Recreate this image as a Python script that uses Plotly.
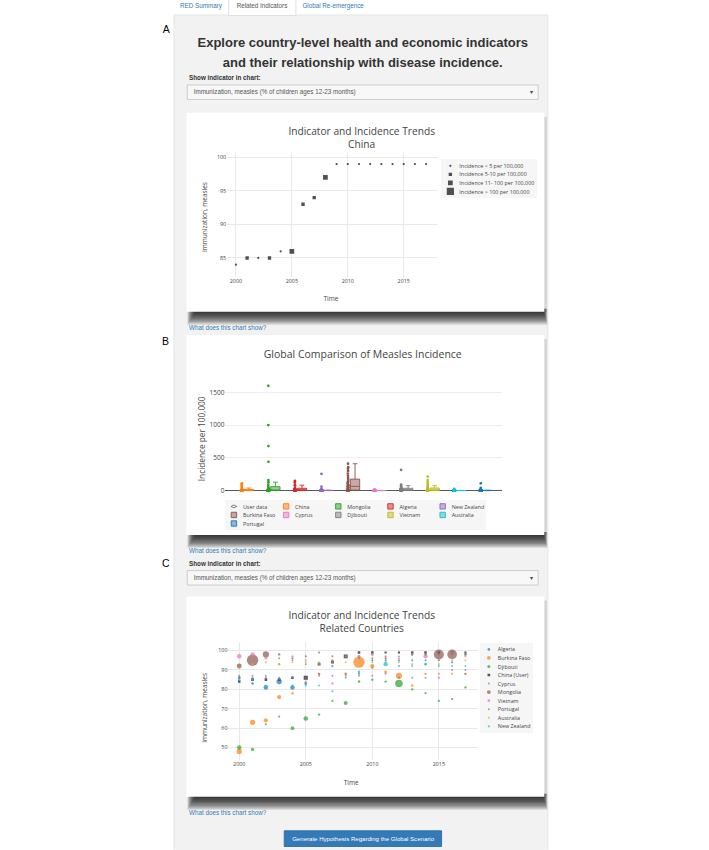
import plotly.graph_objects as go

# ---------------------------------------------------------------- data
YEARS = list(range(2000, 2018))

# Chart A : China
CHINA_IMMUNIZATION = [84, 85, 85, 85, 86, 86, 93, 94, 97, 99, 99, 99, 99, 99, 99, 99, 99, 99]
CHINA_INCIDENCE = [4, 7, 4.5, 6, 4, 60, 8, 9, 45, 3.9, 2.9, 0.7, 0.5, 2, 3.9, 3, 1.8, 0.4]
INCIDENCE_CLASSES = ["Incidence < 5 per 100,000", "Incidence 5-10 per 100,000",
                     "Incidence 11- 100 per 100,000", "Incidence > 100 per 100,000"]

# Chart B : incidence per 100,000 (all reported years)
BOX_COUNTRIES = ["China", "Mongolia", "Algeria", "New Zealand", "Burkina Faso",
                 "Cyprus", "Djibouti", "Vietnam", "Australia", "Portugal"]
B_CHINA = [110, 95, 72, 55, 40, 25, 18, 12, 9, 8, 7, 8, 10, 9, 6, 4, 3, 1.5, 0.7, 0.5, 2, 4, 3, 2, 0.5, 0.3]
B_MONGOLIA = [1600, 1000, 680, 440, 160, 128, 90, 60, 36, 30, 25, 20, 15, 12, 10, 8, 5, 4, 3, 2, 1,
              0.5, 0.3, 0.1, 2, 1, 0.5, 0.2, 0.1, 0.3]
B_ALGERIA = [150, 135, 120, 82, 78, 40, 35, 30, 25, 20, 15, 12, 10, 8, 6, 5, 4, 3, 2, 1, 0.5, 0.3, 12, 6, 2, 1]
B_NEW_ZEALAND = [254, 60, 25, 10, 5, 3, 2, 1, 0.5, 0.3, 0.2, 1, 13, 4, 2, 0.5, 0.3, 0.2, 1, 0.5, 3, 1, 0.4, 0.2, 0.1, 0.3]
B_BURKINA_FASO = [410, 357, 330, 300, 260, 225, 190, 160, 140, 125, 110, 95, 80, 68, 60, 50, 38, 28, 20, 14,
                  9, 6, 4, 3, 2, 1, 0.5, 0.2]
B_CYPRUS = [20, 12, 8, 5, 3, 2, 1, 0.5, 0.3, 0.2, 0.1, 0, 0, 0.5, 1, 0.2, 0.1, 0, 0.3, 0.5, 0.2, 0.1, 0, 0, 0.1, 0.2]
B_DJIBOUTI = [315, 92, 75, 60, 48, 40, 35, 30, 25, 22, 18, 15, 12, 10, 8, 6, 5, 4, 3, 2, 1, 0.5, 0.2, 10, 20, 3]
B_VIETNAM = [213, 160, 130, 100, 75, 55, 40, 30, 25, 20, 15, 12, 10, 8, 6, 5, 4, 3, 2, 1, 0.5, 0.3, 0.2, 18, 9, 2]
B_AUSTRALIA = [25, 15, 8, 5, 3, 2, 1, 0.5, 0.4, 0.3, 0.2, 0.1, 0.5, 0.3, 0.2, 0.1, 0.1, 0.4, 1.2, 0.3, 0.4, 0.2,
               0.3, 0.3, 0.5, 0.4]
B_PORTUGAL = [111, 40, 25, 15, 8, 5, 3, 2, 1, 0.5, 0.2, 0.1, 0, 0, 0.1, 0, 0, 0.2, 0.3, 0.1, 0, 0, 0.1, 0.2, 0.1, 0.3]
BOX_VALUES = [B_CHINA, B_MONGOLIA, B_ALGERIA, B_NEW_ZEALAND, B_BURKINA_FASO,
              B_CYPRUS, B_DJIBOUTI, B_VIETNAM, B_AUSTRALIA, B_PORTUGAL]

# Chart C : immunization (%) and incidence per 100,000, 2000-2017
ALGERIA_IMM = [86, 83, 81, 84, 81, 83, 88, 92, 88, 88, 95, 95, 95, 95, 95, 95, 94, 88]
ALGERIA_INC = [10, 5, 90, 150, 80, 10, 2, 1, 0.5, 0.3, 0.2, 0.3, 0.2, 0.1, 0.1, 0.2, 0.3, 0.5]
BURKINA_IMM = [48, 63, 64, 76, 78, 84, 88, 94, 88, 94, 92, 89, 87, 82, 88, 88, 88, 88]
BURKINA_INC = [150, 150, 60, 60, 3, 1, 2, 1, 5, 1500, 70, 8, 250, 3, 2, 1, 1, 2]
DJIBOUTI_IMM = [50, 49, 62, 66, 60, 65, 67, 74, 73, 84, 85, 84, 83, 80, 78, 74, 75, 81]
DJIBOUTI_INC = [80, 20, 1, 1, 40, 90, 2, 1, 50, 5, 3, 2, 500, 2, 1, 1, 1, 2]
CYPRUS_IMM = [86, 86, 86, 86, 86, 86, 87, 87, 87, 87, 87, 88, 86, 86, 86, 86, 90, 90]
CYPRUS_INC = [0.4, 0.2, 0.1, 0.3, 0.2, 0.1, 0.1, 0.2, 0.3, 0.1, 0.2, 0.1, 0.3, 0.2, 0.1, 0.2, 0.3, 0.1]
MONGOLIA_IMM = [92, 95, 98, 98, 96, 97, 99, 97, 97, 97, 98, 97, 99, 98, 98, 98, 98, 98]
MONGOLIA_INC = [120, 1600, 250, 2, 1, 0.5, 0.3, 0.2, 0.5, 0.4, 0.2, 0.1, 0.1, 0.1, 0.5, 1100, 1000, 2]
VIETNAM_IMM = [97, 98, 96, 93, 97, 95, 93, 83, 97, 97, 98, 96, 96, 98, 97, 95, 99, 97]
VIETNAM_INC = [90, 60, 5, 3, 2, 1, 1, 2, 3, 15, 3, 1, 1, 2, 70, 0.5, 0.3, 1]
PORTUGAL_IMM = [87, 87, 87, 96, 95, 93, 93, 95, 97, 96, 96, 96, 97, 98, 98, 98, 98, 98]
PORTUGAL_INC = [0.3, 0.2, 0.2, 0.1, 0.1, 0.1, 0.1, 0.1, 0.1, 0.1, 0.1, 0.1, 0.1, 0.1, 0.1, 0.1, 0.1, 1.1]
AUSTRALIA_IMM = [91, 93, 94, 93, 94, 94, 94, 94, 94, 94, 94, 94, 94, 93, 93, 93, 95, 95]
AUSTRALIA_INC = [0.5, 0.6, 0.2, 0.4, 0.2, 0.1, 0.6, 0.1, 0.3, 0.5, 0.3, 0.8, 0.9, 0.7, 1.5, 0.3, 0.4, 0.3]
NZ_IMM = [85, 85, 82, 85, 82, 82, 82, 79, 86, 89, 91, 93, 92, 92, 93, 92, 92, 92]
NZ_INC = [2, 0.5, 0.3, 0.3, 0.2, 0.2, 0.3, 0.5, 0.4, 5, 1, 70, 1, 0.2, 6, 0.2, 0.5, 0.2]

RELATED = [("Algeria", ALGERIA_IMM, ALGERIA_INC), ("Burkina Faso", BURKINA_IMM, BURKINA_INC),
           ("Djibouti", DJIBOUTI_IMM, DJIBOUTI_INC), ("China (User)", CHINA_IMMUNIZATION, CHINA_INCIDENCE),
           ("Cyprus", CYPRUS_IMM, CYPRUS_INC), ("Mongolia", MONGOLIA_IMM, MONGOLIA_INC),
           ("Vietnam", VIETNAM_IMM, VIETNAM_INC), ("Portugal", PORTUGAL_IMM, PORTUGAL_INC),
           ("Australia", AUSTRALIA_IMM, AUSTRALIA_INC), ("New Zealand", NZ_IMM, NZ_INC)]

# ---------------------------------------------------------------- styles
BOX_COLORS = {"China": "#ff7f0e", "Mongolia": "#2ca02c", "Algeria": "#d62728", "New Zealand": "#9467bd",
              "Burkina Faso": "#8c564b", "Cyprus": "#e377c2", "Djibouti": "#7f7f7f", "Vietnam": "#bcbd22",
              "Australia": "#17becf", "Portugal": "#1f77b4"}
REL_COLORS = {"Algeria": "#1f77b4", "Burkina Faso": "#ff7f0e", "Djibouti": "#2ca02c", "China (User)": "#111111",
              "Cyprus": "#9467bd", "Mongolia": "#8c564b", "Vietnam": "#e377c2", "Portugal": "#7f7f7f",
              "Australia": "#bcbd22", "New Zealand": "#17becf"}
CLASS_SIZES = [5, 7.5, 10.5, 16]
CLASS_SYMBOLS = ["circle", "square", "square", "square"]

SCALE = 0.45                      # the reference is a scaled-down page
REF_W, REF_H = 709, 850
FIG_W, FIG_H = round(REF_W / SCALE), round(REF_H / SCALE)
# plot-area (paper) box, in reference pixels: x 225 .. 502, full height
ML = round(225 / SCALE)
PW = round(277 / SCALE)
MR = FIG_W - ML - PW
UI_FONT = "Liberation Sans, Arial, sans-serif"
PLOT_FONT = "Open Sans, verdana, arial, sans-serif"


def px_x(v):
    return (v / SCALE - ML) / PW


def px_y(v):
    return 1 - v / REF_H


def sz(v):
    return v / SCALE


def dom(a, b):
    return [max(0.0, px_x(a)), min(1.0, px_x(b))]


def incidence_class(v):
    if v < 5:
        return 0
    if v <= 10:
        return 1
    if v <= 100:
        return 2
    return 3


def incidence_size(v):
    return min(26, 4 + 0.9 * v ** 0.43)


shapes = []
annotations = []


def rect(x0, y0, x1, y1, fill, line=None, lw=1.0):
    shapes.append(dict(type="rect", xref="paper", yref="paper", layer="below",
                       x0=px_x(x0), x1=px_x(x1), y0=px_y(y1), y1=px_y(y0),
                       fillcolor=fill, line=dict(color=line or fill, width=lw if line else 0)))


def label(x, y, text, size, color="#333", xanchor="center", family=UI_FONT, angle=0):
    annotations.append(dict(x=px_x(x), y=px_y(y), xref="paper", yref="paper", text=text,
                            showarrow=False, xanchor=xanchor, yanchor="middle", textangle=angle,
                            font=dict(size=sz(size), color=color, family=family)))


def chart_card(x0, y0, x1, y1):
    for k in range(10):
        rect(x0 + 1 + k * 0.8, y1 - 3, x1 + 3 - k * 0.4, y1 + 13 - k * 1.3, "rgba(0,0,0,0.13)")
    rect(x1 - 1, y0 + 4, x1 + 2.5, y1, "rgba(0,0,0,0.12)")
    rect(x0, y0, x1, y1, "#ffffff")


# ---------------------------------------------------------------- page frame
rect(174, 15, 548, 852, "#f2f2f2", "#e2e2e2", 2)
rect(228.7, -2, 296, 15.5, "#ffffff", "#dddddd", 2)
label(201, 6, "RED Summary", 6.3, "#337ab7")
label(262, 6, "Related Indicators", 6.3, "#555555")
label(333, 6, "Global Re-emergence", 6.3, "#337ab7")

label(166.5, 29.5, "A", 10.5, "#000000")
label(165.5, 341, "B", 10.5, "#000000")
label(166, 564, "C", 10.5, "#000000")

label(363, 42.5, "<b>Explore country-level health and economic indicators</b>", 13, "#333333")
label(363, 63, "<b>and their relationship with disease incidence.</b>", 13, "#333333")

for top, lab_y in [(85, 77.3), (570.7, 564)]:
    label(188.3, lab_y, "<b>Show indicator in chart:</b>", 6.3, "#333333", "left")
    rect(187.3, top, 538.3, top + 14.5, "#f8f8f8", "#c8c8c8", 2)
    label(192.5, top + 7.3, "Immunization, measles (% of children ages 12-23 months)", 6.3, "#555555", "left")
    label(532, top + 7.3, "▾", 6.3, "#444444")

chart_card(186.5, 112.7, 544.5, 311.7)
chart_card(186.5, 335, 544.5, 535)
chart_card(186.5, 596.7, 544.5, 797)

for y in (327.5, 550.7, 813.3):
    label(188.3, y, "What does this chart show?", 6.3, "#337ab7", "left")

rect(284.3, 831, 441.7, 846.7, "#337ab7", "#2e6da4", 2)
label(363, 839, "Generate Hypothesis Regarding the Global Scenario", 6.1, "#ffffff")

# chart titles / axis titles
label(362, 137.5, "Indicator and Incidence Trends<br>China", 10.2, "#444444", family=PLOT_FONT)
label(204.3, 217, "Immunization, measles", 6.5, "#444444", family=PLOT_FONT, angle=-90)
label(331, 298.3, "Time", 6.5, "#444444", family=PLOT_FONT)

label(363, 354, "Global Comparison of Measles Incidence", 10.5, "#444444", family=PLOT_FONT)
label(201.7, 439, "Incidence per 100,000", 8.3, "#444444", family=PLOT_FONT, angle=-90)

label(362, 622, "Indicator and Incidence Trends<br>Related Countries", 10.2, "#444444", family=PLOT_FONT)
label(204.3, 708, "Immunization, measles", 6.5, "#444444", family=PLOT_FONT, angle=-90)
label(351.3, 782.7, "Time", 6.5, "#444444", family=PLOT_FONT)

# ---------------------------------------------------------------- traces
fig = go.Figure()

# A: China, one trace per incidence class
for ci, cname in enumerate(INCIDENCE_CLASSES):
    xs = [yr for yr, inc in zip(YEARS, CHINA_INCIDENCE) if incidence_class(inc) == ci]
    ys = [v for v, inc in zip(CHINA_IMMUNIZATION, CHINA_INCIDENCE) if incidence_class(inc) == ci]
    fig.add_trace(go.Scatter(x=xs or [None], y=ys or [None], mode="markers", name=cname,
                             xaxis="x", yaxis="y", legend="legend",
                             marker=dict(size=CLASS_SIZES[ci], symbol=CLASS_SYMBOLS[ci],
                                         color="#333333", opacity=0.85)))

# B: box plots
fig.add_trace(go.Scatter(x=[BOX_COUNTRIES[0]], y=[None], mode="markers", name="User data",
                         xaxis="x2", yaxis="y2", legend="legend2",
                         marker=dict(symbol="diamond-wide-open", size=9, color="#444444",
                                     line=dict(width=1.5))))
for name, vals in zip(BOX_COUNTRIES, BOX_VALUES):
    c = BOX_COLORS[name]
    fig.add_trace(go.Box(y=vals, name=name, xaxis="x2", yaxis="y2", legend="legend2",
                         boxpoints="all", jitter=0.3, pointpos=-1.5,
                         marker=dict(color=c, size=6), line=dict(color=c, width=2)))

# C: related countries
for name, imm, inc in RELATED:
    fig.add_trace(go.Scatter(x=YEARS, y=imm, mode="markers", name=name, xaxis="x3", yaxis="y3",
                             legend="legend3",
                             marker=dict(size=[incidence_size(v) for v in inc], color=REL_COLORS[name],
                                         symbol="square" if name == "China (User)" else "circle",
                                         opacity=0.7, line=dict(width=0))))

# ---------------------------------------------------------------- axes
tick12 = dict(size=12, color="#444444", family=PLOT_FONT)
grid = dict(showgrid=True, gridcolor="#e6e6e6", gridwidth=1.5, zeroline=False, showline=False, ticks="")

fig.update_layout(
    template="none",
    width=FIG_W, height=FIG_H,
    margin=dict(l=ML, r=MR, t=0, b=0, pad=0, autoexpand=False),
    paper_bgcolor="#ffffff", plot_bgcolor="rgba(0,0,0,0)",
    font=dict(family=PLOT_FONT, color="#444444", size=12),
    boxgap=0.5,
    shapes=shapes, annotations=annotations,
    xaxis=dict(domain=dom(226.7, 438.3), range=[1999.17, 2018.08], dtick=5, tick0=2000,
               anchor="y", tickfont=tick12, **grid),
    yaxis=dict(domain=[px_y(277.5), px_y(152)], range=[82.1, 100.8], dtick=5, anchor="x",
               tickfont=tick12, **grid),
    xaxis2=dict(domain=dom(225, 502), type="category", range=[-0.9, 9.53], anchor="y2",
                showticklabels=False, showgrid=False, zeroline=False, ticks=""),
    yaxis2=dict(domain=[px_y(495), px_y(380)], range=[-66, 1690], dtick=500, anchor="x2",
                showgrid=True, gridcolor="#ececec", gridwidth=1.5, zeroline=True,
                zerolinecolor="#444444", zerolinewidth=2, ticks="",
                tickfont=dict(size=14.5, color="#444444", family=PLOT_FONT)),
    xaxis3=dict(domain=dom(228, 477.7), range=[1999.15, 2017.91], dtick=5, tick0=2000,
                anchor="y3", tickfont=tick12, **grid),
    yaxis3=dict(domain=[px_y(760.5), px_y(641.7)], range=[43.4, 104.64], dtick=10, anchor="x3",
                tickfont=tick12, **grid),
    legend=dict(x=px_x(441.5), y=px_y(159.3), xanchor="left", yanchor="top", bgcolor="#f6f6f6",
                font=dict(size=12, color="#444444"), borderwidth=0),
    legend2=dict(x=px_x(225), y=px_y(500), xanchor="left", yanchor="top", orientation="h",
                 bgcolor="#f6f6f6", entrywidth=71, entrywidthmode="pixels",
                 font=dict(size=12, color="#444444"), borderwidth=0),
    legend3=dict(x=px_x(480), y=px_y(643), xanchor="left", yanchor="top", bgcolor="#f6f6f6",
                 font=dict(size=12, color="#444444"), borderwidth=0),
)

POST = ("var gd=document.getElementById('{plot_id}');"
        "document.documentElement.style.overflow='hidden';"
        "document.body.style.margin='0';document.body.style.overflow='hidden';"
        "gd.style.transformOrigin='0 0';gd.style.transform='scale(%.5f)';" % (REF_W / FIG_W))

fig.write_html("out.html", post_script=POST, config={"displayModeBar": False})
